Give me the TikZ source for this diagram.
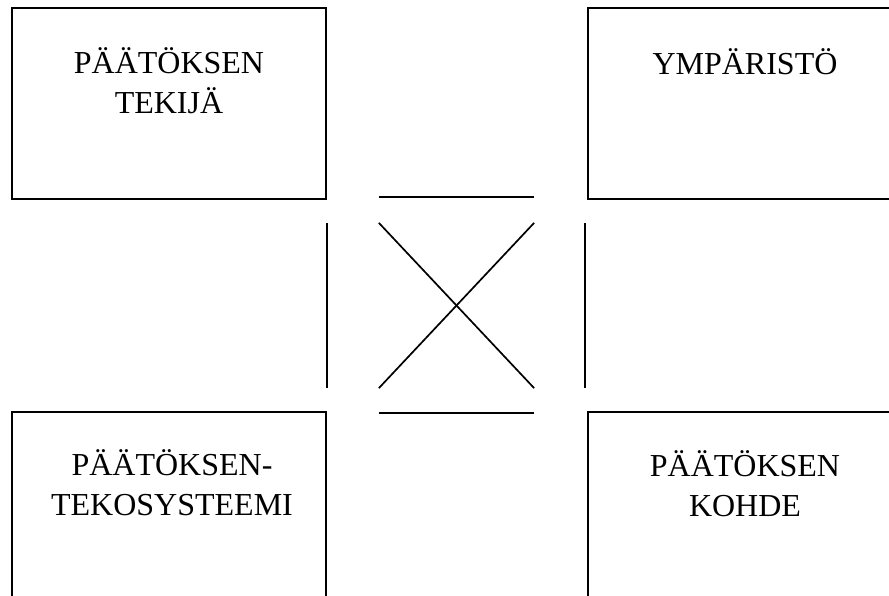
\documentclass[tikz,border=0pt]{standalone}
\usepackage{fontspec}
\setmainfont{Liberation Serif}
\usetikzlibrary{positioning}
\tikzset{
  box/.style={draw,line width=1.7pt,minimum width=314pt,minimum height=191pt,inner sep=0pt},
  boxtext/.style={anchor=north,align=center,inner sep=0pt,font=\fontsize{32}{40}\selectfont},
  link/.style={line width=1.7pt}
}
\begin{document}
\begin{tikzpicture}[x=1pt,y=-1pt]
\clip (0,0) rectangle (889,595);
\node[box] (tekija) at (169,103.5) {};
\node[box] (ymparisto) at (745,103.5) {};
\node[box] (systeemi) at (169,507.5) {};
\node[box] (kohde) at (745,507.5) {};
\node[boxtext] (tekijatxt) at ([yshift=-40pt]tekija.north) {PÄÄTÖKSEN\\TEKIJÄ};
\node[boxtext] (ymparistotxt) at ([yshift=-41pt]ymparisto.north) {YMPÄRISTÖ};
\node[boxtext] (systeemitxt) at ([yshift=-38pt,xshift=3pt]systeemi.north) {PÄÄTÖKSEN-\\TEKOSYSTEEMI};
\node[boxtext] (kohdetxt) at ([yshift=-39pt]kohde.north) {PÄÄTÖKSEN\\KOHDE};
% relations between the four boxes
\draw[link] ([shift={(52,-3)}]tekija.south east) -- ([shift={(-53,-3)}]ymparisto.south west);
\draw[link] ([shift={(52,2)}]systeemi.north east) -- ([shift={(-53,2)}]kohde.north west);
\draw[link] ([shift={(0,23)}]tekija.south east) -- ([shift={(0,-23)}]systeemi.north east);
\draw[link] ([shift={(-2,23)}]ymparisto.south west) -- ([shift={(-2,-23)}]kohde.north west);
\draw[link] ([shift={(52,23)}]tekija.south east) -- ([shift={(-53,-23)}]kohde.north west);
\draw[link] ([shift={(-53,23)}]ymparisto.south west) -- ([shift={(52,-23)}]systeemi.north east);
\end{tikzpicture}
\end{document}
